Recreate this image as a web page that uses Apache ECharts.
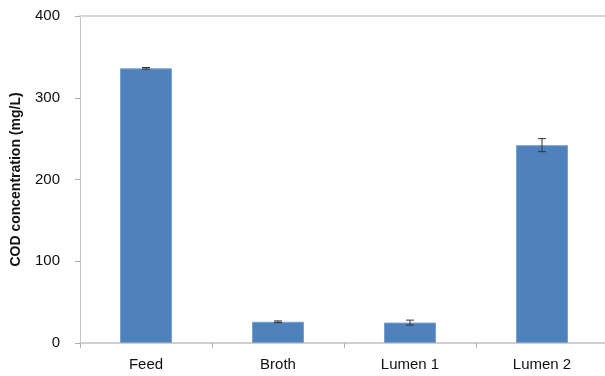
<!DOCTYPE html>
<html>
<head>
<meta charset="utf-8">
<script src="https://cdn.jsdelivr.net/npm/echarts@6/dist/echarts.min.js"></script>
<style>
  html, body { margin: 0; padding: 0; background: #fff; }
  #chart { width: 605px; height: 376px; }
</style>
</head>
<body>
<div id="chart"></div>
<script>
// COD concentration per sampling point, mean and standard deviation
const categories = ['Feed', 'Broth', 'Lumen 1', 'Lumen 2'];
const codMean = [336, 26, 25, 242];
const codError = [1, 1, 3, 8];
const yTicks = [0, 100, 200, 300, 400];

const chart = echarts.init(document.getElementById('chart'));
const font = '"Liberation Sans", Arial, sans-serif';

chart.setOption({
  animation: false,
  grid: { left: 80, top: 16, width: 528, bottom: 33, containLabel: false, outerBoundsMode: 'none' },
  xAxis: [
    {
      type: 'category',
      data: categories,
      axisLine: { lineStyle: { color: '#cfcfcf', width: 2 } },
      axisTick: { show: true, length: 5, alignWithLabel: false, lineStyle: { color: '#b0b0b0' } },
      axisLabel: { color: '#111', fontFamily: font, fontSize: 15, margin: 14 }
    },
    {
      // plot area top edge
      type: 'category',
      position: 'top',
      data: categories,
      axisLine: { show: true, lineStyle: { color: '#d6d6d6', width: 2 } },
      axisTick: { show: false },
      axisLabel: { show: false }
    }
  ],
  yAxis: {
    type: 'value',
    min: yTicks[0],
    max: yTicks[yTicks.length - 1],
    interval: 100,
    name: 'COD concentration (mg/L)',
    nameLocation: 'middle',
    nameGap: 57,
    nameTextStyle: { color: '#111', fontFamily: font, fontSize: 14, fontWeight: 'bold' },
    axisLine: { show: true, lineStyle: { color: '#c4c4c4', width: 1 } },
    axisTick: { show: true, length: 5, lineStyle: { color: '#b0b0b0' } },
    splitLine: { show: false },
    axisLabel: { color: '#111', fontFamily: font, fontSize: 15, margin: 20 }
  },
  series: [
    {
      type: 'bar',
      data: codMean,
      barWidth: 52,
      itemStyle: { color: '#4f81bd', borderColor: '#7aa0cf', borderWidth: 1 },
      z: 2
    },
    {
      type: 'custom',
      data: codMean.map((v, i) => [i, v - codError[i], v + codError[i]]),
      z: 3,
      renderItem: function (params, api) {
        const x = api.value(0);
        const lo = api.coord([x, api.value(1)]);
        const hi = api.coord([x, api.value(2)]);
        const half = 4;
        const style = { stroke: '#333', lineWidth: 1 };
        return {
          type: 'group',
          children: [
            { type: 'line', shape: { x1: lo[0], y1: lo[1], x2: hi[0], y2: hi[1] }, style },
            { type: 'line', shape: { x1: lo[0] - half, y1: lo[1], x2: lo[0] + half, y2: lo[1] }, style },
            { type: 'line', shape: { x1: hi[0] - half, y1: hi[1], x2: hi[0] + half, y2: hi[1] }, style }
          ]
        };
      }
    }
  ]
});
</script>
</body>
</html>
